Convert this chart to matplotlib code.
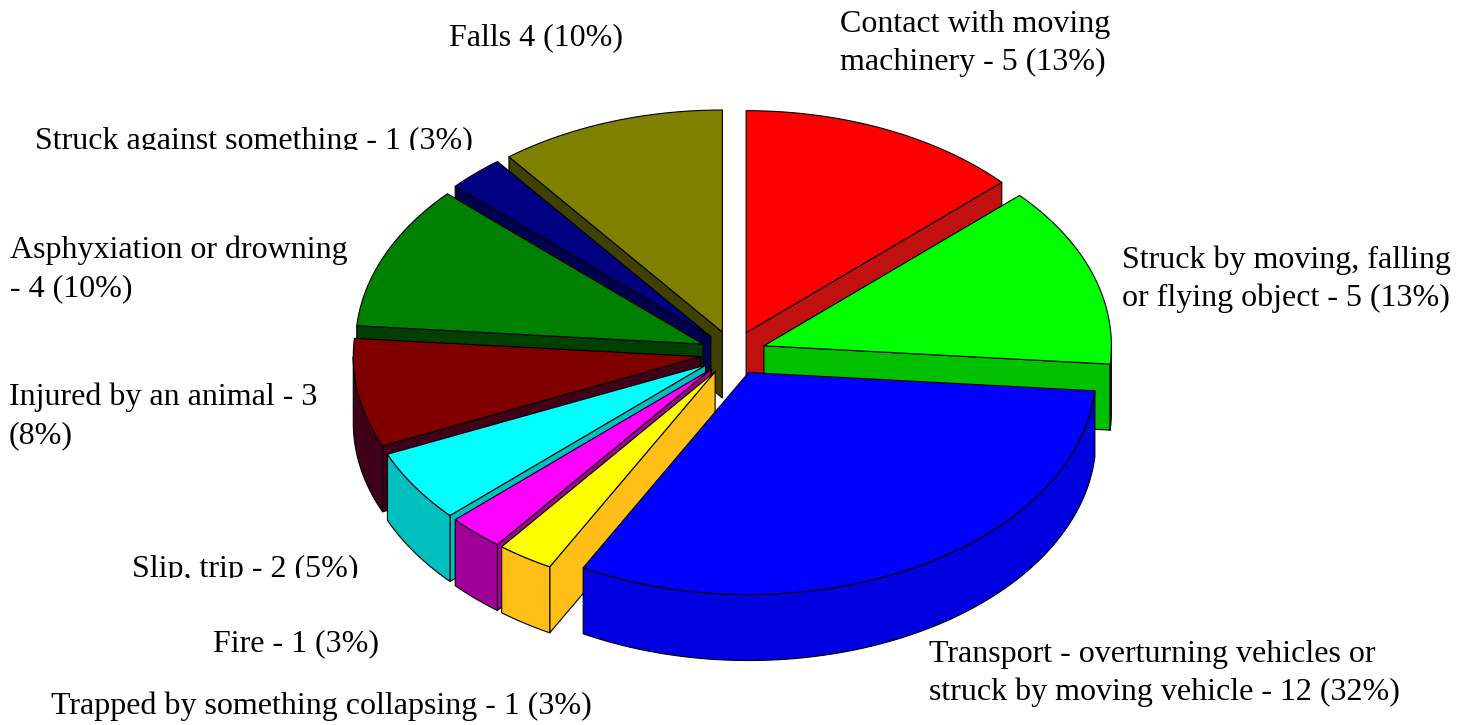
import numpy as np
import matplotlib
matplotlib.use('Agg')
import matplotlib.pyplot as plt
from matplotlib.patches import Polygon, Rectangle

# clockwise from 12 o'clock
counts = [5, 5, 12, 1, 1, 2, 3, 4, 1, 4]
top_colors = ['#ff0000', '#00ff00', '#0000ff', '#ffff00', '#ff00ff',
              '#00ffff', '#800000', '#008000', '#000080', '#808000']
side_colors = ['#c01010', '#00c000', '#0000e0', '#ffbf17', '#a00098',
               '#00bfbf', '#400018', '#004000', '#000050', '#404000']

# text, x, baseline y, clip bottom
label_lines = [
    ('Falls 4 (10%)', 449, 45, None),
    ('Contact with moving', 840, 32, None),
    ('machinery - 5 (13%)', 840, 70, None),
    ('Struck against something - 1 (3%)', 35, 149, 150),
    ('Struck by moving, falling', 1122, 268, None),
    ('or flying object - 5 (13%)', 1122, 306, None),
    ('Asphyxiation or drowning', 10, 258, None),
    ('- 4 (10%)', 10, 296, None),
    ('Injured by an animal - 3', 9, 405, None),
    ('(8%)', 9, 443, None),
    ('Slip, trip - 2 (5%)', 132, 577, 578),
    ('Fire - 1 (3%)', 213, 651, None),
    ('Trapped by something collapsing - 1 (3%)', 51, 714, None),
    ('Transport - overturning vehicles or', 929, 662, None),
    ('struck by moving vehicle - 12 (32%)', 929, 700, None),
]

# pie geometry, in pixels
cx, cy = 733, 353
rx, ry = 347.5, 222
depth = 66
explode_x, explode_y = 0.094, 0.1

fig = plt.figure(figsize=(14.69, 7.25), dpi=100)
ax = fig.add_axes([0, 0, 1, 1])
ax.set_xlim(0, 1469)
ax.set_ylim(725, 0)
ax.axis('off')

edges = np.cumsum([0] + counts) / sum(counts) * 2 * np.pi
wedges = []
for i in range(len(counts)):
    wedges.append((edges[i], edges[i + 1], top_colors[i], side_colors[i]))
# back to front
wedges.sort(key=lambda w: -np.cos((w[0] + w[1]) / 2))


def rim(x0, y0, a, b):
    t = np.linspace(a, b, max(int((b - a) * 80), 2))
    return np.column_stack([x0 + rx * np.sin(t), y0 - ry * np.cos(t)])


def face(pts, color, z):
    ax.add_patch(Polygon(pts, closed=True, facecolor=color, edgecolor='black',
                         linewidth=0.8, joinstyle='round', zorder=z))


z = 1
for a, b, top, side in wedges:
    mid = (a + b) / 2
    x0 = cx + explode_x * rx * np.sin(mid)
    y0 = cy - explode_y * ry * np.cos(mid)
    apex = np.array([x0, y0])
    drop = np.array([0, depth])
    arc = rim(x0, y0, a, b)

    # cut faces that look toward the viewer
    if np.sin(a) < -1e-6:
        face([apex, arc[0], arc[0] + drop, apex + drop], side, z)
    if np.sin(b) > 1e-6:
        face([apex, arc[-1], arc[-1] + drop, apex + drop], side, z)
    # outer wall, front half only
    lo, hi = max(a, np.pi / 2), min(b, 3 * np.pi / 2)
    if hi > lo:
        wall = rim(x0, y0, lo, hi)
        face(np.vstack([wall, wall[::-1] + drop]), side, z + 1)
    face(np.vstack([apex, arc]), top, z + 2)
    z += 3

for text, x, y, clip in label_lines:
    t = ax.text(x, y, text, family='Liberation Serif', fontsize=23,
                color='black', ha='left', va='baseline', zorder=100)
    if clip is not None:
        t.set_clip_on(True)
        t.set_clip_path(Rectangle((0, 0), 1469, clip, transform=ax.transData))

fig.savefig('out.png', dpi=100, facecolor='white')
